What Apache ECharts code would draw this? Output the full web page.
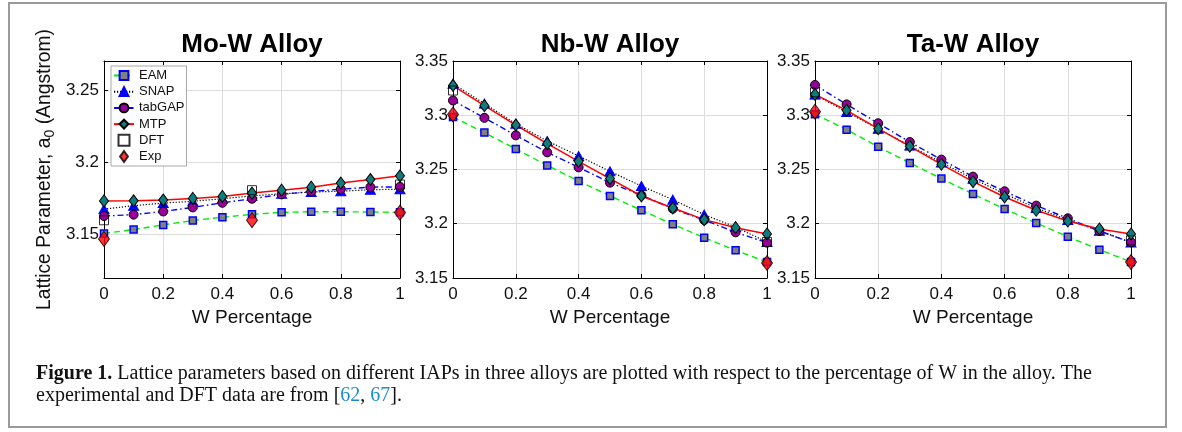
<!DOCTYPE html>
<html>
<head>
<meta charset="utf-8">
<script src="https://cdn.jsdelivr.net/npm/echarts@6/dist/echarts.min.js"></script>
<style>
  html, body { margin: 0; padding: 0; background: #fff; }
  #chart { width: 1182px; height: 432px; }
</style>
</head>
<body>
<div id="chart"></div>
<script>
// W fraction (x axis)
var xs = [0, 0.1, 0.2, 0.3, 0.4, 0.5, 0.6, 0.7, 0.8, 0.9, 1];
var refX3 = [0, 0.5, 1];
var refX2 = [0, 1];

// Mo-W
var moEAM = [3.1508, 3.1535, 3.1567, 3.1597, 3.1620, 3.1640, 3.1654, 3.1658, 3.1658, 3.1656, 3.1654];
var moSNAP = [3.1676, 3.1700, 3.1718, 3.1730, 3.1748, 3.1768, 3.1782, 3.1794, 3.1800, 3.1810, 3.1814];
var moTab = [3.1628, 3.1638, 3.1660, 3.1688, 3.1720, 3.1748, 3.1778, 3.1798, 3.1814, 3.1828, 3.1830];
var moMTP = [3.1733, 3.1734, 3.1739, 3.1750, 3.1764, 3.1787, 3.1807, 3.1828, 3.1856, 3.1881, 3.1906];
var moDFT = [3.1599, 3.1807, 3.1846];
var moExp = [3.1470, 3.1600, 3.1652];

// Nb-W
var nbEAM = [3.2985, 3.2840, 3.2689, 3.2538, 3.2394, 3.2256, 3.2124, 3.1995, 3.1872, 3.1755, 3.1647];
var nbSNAP = [3.3291, 3.3107, 3.2922, 3.2763, 3.2625, 3.2483, 3.2348, 3.2222, 3.2084, 3.1970, 3.1831];
var nbTab = [3.3136, 3.2976, 3.2815, 3.2658, 3.2520, 3.2379, 3.2262, 3.2139, 3.2035, 3.1921, 3.1826];
var nbMTP = [3.3274, 3.3088, 3.2910, 3.2738, 3.2575, 3.2416, 3.2256, 3.2145, 3.2038, 3.1964, 3.1906];
var nbDFT = [3.3228, 3.1832];
var nbExp = [3.3008, 3.1638];

// Ta-W
var taEAM = [3.3010, 3.2867, 3.2710, 3.2560, 3.2416, 3.2274, 3.2136, 3.2007, 3.1881, 3.1761, 3.1648];
var taSNAP = [3.3190, 3.3030, 3.2875, 3.2720, 3.2565, 3.2415, 3.2275, 3.2145, 3.2035, 3.1935, 3.1828];
var taTab = [3.3279, 3.3100, 3.2926, 3.2753, 3.2591, 3.2434, 3.2299, 3.2167, 3.2050, 3.1933, 3.1829];
var taMTP = [3.3193, 3.3045, 3.2876, 3.2714, 3.2548, 3.2388, 3.2247, 3.2124, 3.2025, 3.1952, 3.1906];
var taDFT = [3.3211, 3.1847];
var taExp = [3.3033, 3.1647];

var titles = ['Mo-W Alloy', 'Nb-W Alloy', 'Ta-W Alloy'];
var names = ['EAM', 'SNAP', 'tabGAP', 'MTP', 'DFT', 'Exp'];
var moTicks = [3.15, 3.2, 3.25];

var FONT = '"Liberation Sans", Arial, Helvetica, sans-serif';
var SERIF = '"Liberation Serif", "Times New Roman", serif';

var grids = [
  { left: 104, top: 61, width: 296, height: 217 },
  { left: 453, top: 61, width: 314, height: 217 },
  { left: 815, top: 61, width: 316, height: 217 }
];
var yRange = [[3.12, 3.27], [3.15, 3.35], [3.15, 3.35]];

var styles = {
  EAM: { symbol: 'rect', symbolSize: 7, itemStyle: { color: '#808080', borderColor: '#0000ff', borderWidth: 1.5 },
         lineStyle: { color: '#00ee00', width: 1.4, type: [6, 4] } },
  SNAP: { symbol: 'triangle', symbolSize: [10, 9], itemStyle: { color: '#0000ff', borderColor: '#0000ff', borderWidth: 1 },
          lineStyle: { color: '#000', width: 1.2, type: [1.2, 1.8] } },
  tabGAP: { symbol: 'circle', symbolSize: 9, itemStyle: { color: '#990099', borderColor: '#000', borderWidth: 1 },
            lineStyle: { color: '#0000ff', width: 1.4, type: [6, 3, 1.5, 3] } },
  MTP: { symbol: 'diamond', symbolSize: [9, 12], itemStyle: { color: '#0f7b7b', borderColor: '#000', borderWidth: 1 },
         lineStyle: { color: '#ff0000', width: 1.5 } },
  DFT: { symbol: 'rect', symbolSize: 9, itemStyle: { color: 'rgba(255,255,255,0)', borderColor: '#000', borderWidth: 1 },
         icon: 'path://M0,0H10V10H0Z' },
  Exp: { symbol: 'diamond', symbolSize: [11, 15], itemStyle: { color: '#ff0000', borderColor: '#000', borderWidth: 1 },
         icon: 'path://M5,0L10,7L5,14L0,7Z' }
};

var alloyData = [
  { EAM: moEAM, SNAP: moSNAP, tabGAP: moTab, MTP: moMTP, DFT: moDFT, Exp: moExp, refX: refX3 },
  { EAM: nbEAM, SNAP: nbSNAP, tabGAP: nbTab, MTP: nbMTP, DFT: nbDFT, Exp: nbExp, refX: refX2 },
  { EAM: taEAM, SNAP: taSNAP, tabGAP: taTab, MTP: taMTP, DFT: taDFT, Exp: taExp, refX: refX2 }
];

function pairs(x, y) {
  return x.map(function (v, i) { return [v, y[i]]; });
}

var xAxes = [], yAxes = [], series = [], titleList = [];

grids.forEach(function (g, i) {
  var tickOpt = { inside: true, length: 4, lineStyle: { color: '#000' } };
  var lineOpt = { show: true, onZero: false, lineStyle: { color: '#000', width: 1 } };
  // bottom x
  xAxes.push({
    gridIndex: i, type: 'value', min: 0, max: 1, interval: 0.2, position: 'bottom',
    axisLine: lineOpt, axisTick: tickOpt,
    axisLabel: { fontSize: 17, color: '#111', margin: 8, fontFamily: FONT },
    splitLine: { show: true, lineStyle: { color: '#dcdcdc', width: 1 } },
    name: 'W Percentage', nameLocation: 'middle', nameGap: 30,
    nameTextStyle: { fontSize: 19, color: '#111', fontFamily: FONT }
  });
  // left y
  var y = {
    gridIndex: i, type: 'value', min: yRange[i][0], max: yRange[i][1], position: 'left',
    axisLine: lineOpt, axisTick: tickOpt,
    axisLabel: { fontSize: 17, color: '#111', margin: 5, fontFamily: FONT },
    splitLine: { show: true, lineStyle: { color: '#dcdcdc', width: 1 } }
  };
  if (i === 0) {
    y.axisTick = { inside: true, length: 4, lineStyle: { color: '#000' }, customValues: moTicks };
    y.axisLabel.customValues = moTicks;
    y.name = 'Lattice Parameter, a{sub|0} (Angstrom)';
    y.nameLocation = 'middle';
    y.nameGap = 47;
    y.nameTextStyle = {
      fontSize: 19.3, color: '#111', fontFamily: FONT,
      rich: { sub: { fontSize: 14, color: '#111', fontFamily: FONT, padding: [10, 0, 0, 0] } }
    };
  } else {
    y.interval = 0.05;
  }
  yAxes.push(y);

  titleList.push({
    text: titles[i], left: g.left + g.width / 2, top: 32, textAlign: 'center', padding: 0,
    textStyle: { fontSize: 26, fontWeight: 'bold', color: '#000', fontFamily: FONT }
  });
});

// mirror axes on top / right for the box ticks
grids.forEach(function (g, i) {
  var tickOpt = { inside: true, length: 4, lineStyle: { color: '#000' } };
  xAxes.push({
    gridIndex: i, type: 'value', min: 0, max: 1, interval: 0.2, position: 'top',
    axisLine: { show: true, onZero: false, lineStyle: { color: '#000', width: 1 } },
    axisTick: tickOpt, axisLabel: { show: false }, splitLine: { show: false }
  });
  var yr = {
    gridIndex: i, type: 'value', min: yRange[i][0], max: yRange[i][1], position: 'right',
    axisLine: { show: true, onZero: false, lineStyle: { color: '#000', width: 1 } },
    axisTick: tickOpt, axisLabel: { show: false }, splitLine: { show: false }
  };
  if (i === 0) {
    yr.axisTick = { inside: true, length: 4, lineStyle: { color: '#000' }, customValues: moTicks };
  } else {
    yr.interval = 0.05;
  }
  yAxes.push(yr);
});

alloyData.forEach(function (d, i) {
  names.forEach(function (n) {
    var st = styles[n];
    var isRef = (n === 'DFT' || n === 'Exp');
    var s = {
      name: n, type: isRef ? 'scatter' : 'line',
      xAxisIndex: i, yAxisIndex: i,
      data: isRef ? pairs(d.refX, d[n]) : pairs(xs, d[n]),
      symbol: st.symbol, symbolSize: st.symbolSize,
      itemStyle: st.itemStyle,
      emphasis: { disabled: true },
      z: isRef ? 4 : 2,
      animation: false
    };
    if (!isRef) {
      s.showSymbol = true;
      s.lineStyle = st.lineStyle;
    }
    series.push(s);
  });
});

var chart = echarts.init(document.getElementById('chart'));
chart.setOption({
  animation: false,
  title: titleList,
  grid: grids.map(function (g) {
    return { left: g.left, top: g.top, width: g.width, height: g.height, show: false };
  }),
  legend: {
    data: names.map(function (n) {
      return styles[n].icon ? { name: n, icon: styles[n].icon } : { name: n };
    }),
    orient: 'vertical', left: 111, top: 66,
    itemWidth: 20, itemHeight: 11, itemGap: 3.2,
    padding: [3, 2, 3, 2],
    backgroundColor: '#fff', borderColor: '#a8a8a8', borderWidth: 1, borderRadius: 0,
    textStyle: { fontSize: 13, color: '#111', fontFamily: FONT },
    selectedMode: false, z: 6
  },
  xAxis: xAxes,
  yAxis: yAxes,
  series: series,
  graphic: [
    {
      type: 'rect', silent: true,
      shape: { x: 9, y: 3, width: 1157, height: 424 },
      style: { fill: 'none', stroke: '#9a9a9a', lineWidth: 2 }
    },
    {
      type: 'text', left: 36, top: 363, silent: true,
      style: {
        text: '{b|Figure 1.} Lattice parameters based on different IAPs in three alloys are plotted with respect to the percentage of W in the alloy. The\n' +
              'experimental and DFT data are from [{l|62}, {l|67}].',
        fontFamily: SERIF,
        fontSize: 20, lineHeight: 22, fill: '#111',
        rich: {
          b: { fontWeight: 'bold', fontSize: 20, lineHeight: 22, fontFamily: SERIF, fill: '#111' },
          l: { fontSize: 20, lineHeight: 22, fontFamily: SERIF, fill: '#1f8dc9' }
        }
      }
    }
  ]
});
</script>
</body>
</html>
